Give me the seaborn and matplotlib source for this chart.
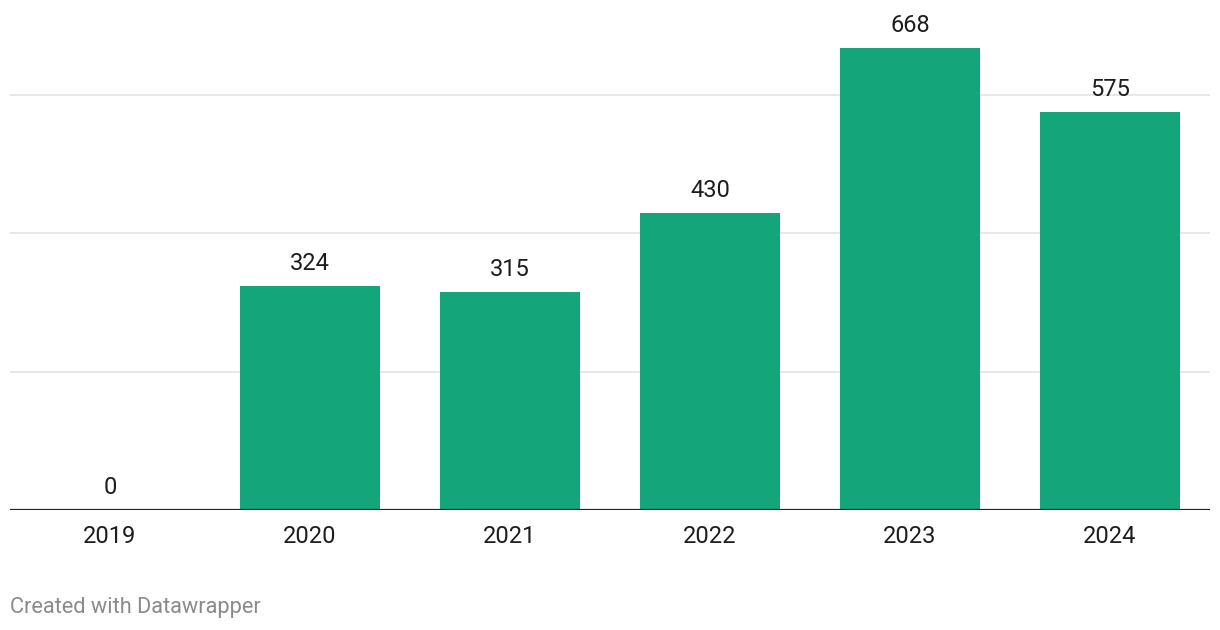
import matplotlib
matplotlib.use("Agg")
import matplotlib.pyplot as plt
import seaborn as sns
import pandas as pd

years = ["2019", "2020", "2021", "2022", "2023", "2024"]
values = [0, 324, 315, 430, 668, 575]

sns.set_style("white")
plt.rcParams['font.family'] = ['Roboto', 'DejaVu Sans']

W, H = 1220, 630
fig = plt.figure(figsize=(W / 100, H / 100), dpi=100)
ax = fig.add_axes([10 / W, (H - 510) / H, 1200 / W, 510 / H])

df = pd.DataFrame({"year": years, "value": values})
sns.barplot(data=df, x="year", y="value", color="#14a57a", saturation=1,
            width=0.7, ax=ax, zorder=2, linewidth=0, edgecolor="none")

ax.set_ylim(0, 510 / (462 / 668))
ax.set_xlim(-0.5, len(years) - 0.5)
for g in [200, 400, 600]:
    ax.axhline(g, color="#e3e3e3", lw=1.2, zorder=1)
ax.axhline(0, color="#222222", lw=1.6, zorder=3)

for i, v in enumerate(values):
    ax.annotate(f"{v}", (i, v), xytext=(0, 11), textcoords="offset pixels",
                ha="center", va="bottom", fontsize=17, color="#1d1d1d")

ax.set_yticks([])
ax.set_xlabel("")
ax.set_ylabel("")
ax.tick_params(axis="x", length=0, labelsize=17, labelcolor="#1d1d1d", pad=11)
for s in ax.spines.values():
    s.set_visible(False)

fig.text(10 / W, 1 - 608 / H, "Created with Datawrapper", fontsize=15.7,
         color="#8a8a8a", ha="left", va="center")

fig.savefig("out.png", dpi=100)
